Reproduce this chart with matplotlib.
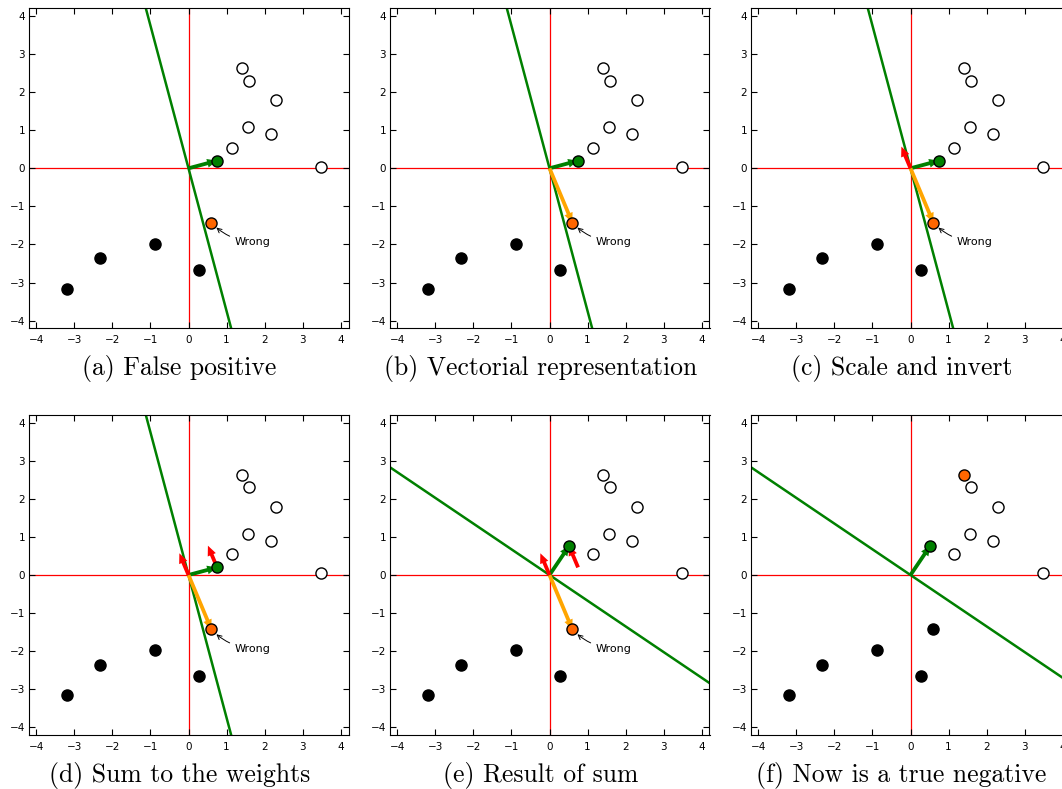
import numpy as np
import matplotlib
matplotlib.use('Agg')
import matplotlib.pyplot as plt

#_Data__________________________________________________________________________
# positive samples (open circles)
pos_x = [1.40, 1.59, 2.29, 1.57, 2.16, 1.15, 3.48]
pos_y = [2.62, 2.30, 1.78, 1.08, 0.89, 0.54, 0.04]
# negative samples (black circles)
neg_x = [-3.18, -2.33, -0.88, 0.27]
neg_y = [-3.16, -2.35, -1.98, -2.66]
# misclassified sample
wrong = (0.60, -1.43)
# weights before / after the update and the scaled, inverted sample
w_old = (0.75, 0.20)
w_new = (0.52, 0.77)
step = (-0.24, 0.57)

captions = ['(a) False positive', '(b) Vectorial representation',
            '(c) Scale and invert', '(d) Sum to the weights',
            '(e) Result of sum', '(f) Now is a true negative']

#_Style_________________________________________________________________________
W, H = 1062, 789
lim = 4.2
ticks = np.arange(-4, 5)
orange_pt = '#ff6600'
arrow_kwargs = dict(width=0.1, head_width=0.23, head_length=0.26,
                    length_includes_head=True, lw=0, zorder=3)
ms = 8

# axes positions in pixels (left, top)
col_left = [28.5, 389.5, 750.5]
row_top = [8.3, 415.0]
ax_size = 320.0

fig = plt.figure(figsize=(W / 100, H / 100), dpi=100)


def make_axes(i):
    r, c = divmod(i, 3)
    left = col_left[c] / W
    bottom = 1 - (row_top[r] + ax_size) / H
    ax = fig.add_axes([left, bottom, ax_size / W, ax_size / H])
    ax.set_xlim(-lim, lim)
    ax.set_ylim(-lim, lim)
    ax.set_xticks(ticks)
    ax.set_yticks(ticks)
    ax.tick_params(direction='in', top=True, right=True, length=4,
                   width=0.8, labelsize=7.5)
    ax.tick_params(axis='x', pad=5)
    ax.tick_params(axis='y', pad=2.5)
    ax.axhline(0, color='red', lw=0.9, zorder=1)
    ax.axvline(0, color='red', lw=0.9, zorder=1)
    # caption below the axes, LaTeX-like font
    fig.text((col_left[c] + ax_size / 2 - 9) / W,
             1 - (row_top[r] + 367) / H, captions[i], family='cmr10',
             fontsize=18.5, ha='center', va='baseline')
    return ax


def plot_points(ax, highlight_first=False, wrong_black=False):
    px, py = list(pos_x), list(pos_y)
    if highlight_first:
        ax.plot(px[0], py[0], 'o', ms=ms, mfc=orange_pt, mec='k', mew=1,
                zorder=5)
        px, py = px[1:], py[1:]
    ax.plot(px, py, 'o', ms=ms, mfc='white', mec='k', mew=1, zorder=5)
    nx, ny = list(neg_x), list(neg_y)
    if wrong_black:
        nx.append(wrong[0])
        ny.append(wrong[1])
    else:
        ax.plot(*wrong, 'o', ms=ms, mfc=orange_pt, mec='k', mew=1, zorder=5)
        ax.annotate('Wrong', xy=wrong, xytext=(1.22, -1.93), fontsize=8,
                    va='center',
                    arrowprops=dict(arrowstyle='->', color='k', lw=0.7,
                                    shrinkB=5,
                                    connectionstyle='arc3,rad=-0.2'))
    ax.plot(nx, ny, 'o', ms=ms, mfc='k', mec='k', mew=1, zorder=5)


def plot_weights(ax, w):
    ax.axline((0, 0), slope=-w[0] / w[1], color='green', lw=1.8, zorder=2)
    ax.arrow(0, 0, w[0], w[1], color='green', **arrow_kwargs)
    ax.plot(*w, 'o', ms=ms, mfc='green', mec='k', mew=1, zorder=6)


axes = [make_axes(i) for i in range(6)]

# (a) false positive
plot_points(axes[0])
plot_weights(axes[0], w_old)

# (b) to (d): sample vector, scaled/inverted, added to the weights
for i in [1, 2, 3]:
    ax = axes[i]
    plot_points(ax)
    plot_weights(ax, w_old)
    ax.arrow(0, 0, wrong[0], wrong[1], color='orange', **arrow_kwargs)
    if i >= 2:
        ax.arrow(0, 0, step[0], step[1], color='red', **arrow_kwargs)
    if i >= 3:
        ax.arrow(w_old[0], w_old[1], step[0], step[1], color='red',
                 **arrow_kwargs)

# (e) result of sum
ax = axes[4]
plot_points(ax)
plot_weights(ax, w_new)
ax.arrow(0, 0, wrong[0], wrong[1], color='orange', **arrow_kwargs)
ax.arrow(0, 0, step[0], step[1], color='red', **arrow_kwargs)
ax.arrow(w_old[0], w_old[1], step[0], step[1], color='red', **arrow_kwargs)

# (f) now a true negative
ax = axes[5]
plot_points(ax, highlight_first=True, wrong_black=True)
plot_weights(ax, w_new)

fig.savefig('out.png', dpi=100)
